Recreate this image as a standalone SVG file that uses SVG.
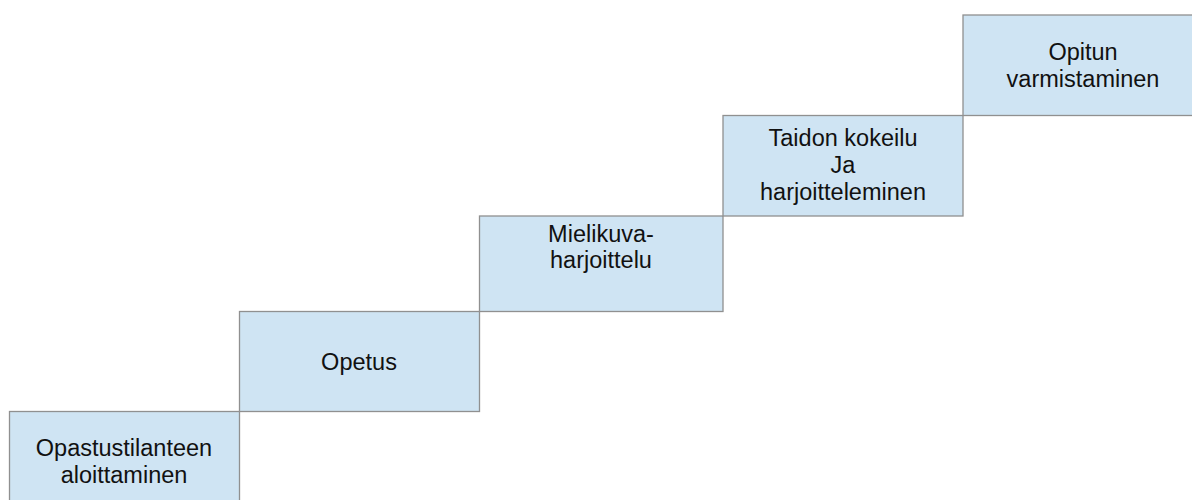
<svg xmlns="http://www.w3.org/2000/svg" width="1192" height="500" viewBox="0 0 1192 500">
<style>
.box{fill:#cfe4f3;stroke:#909090;stroke-width:1.3}
.t{font-family:"Liberation Sans",Arial,sans-serif;font-size:23.5px;fill:#111;text-anchor:middle}
</style>
<rect width="1192" height="500" fill="#fff"/>
<g id="connectors"></g>
<g id="n1"><rect class="box" x="9.5" y="411.5" width="230" height="100"/><text class="t" x="124" y="456">Opastustilanteen</text><text class="t" x="124" y="483">aloittaminen</text></g>
<g id="n2"><rect class="box" x="239.5" y="311.5" width="240" height="100"/><text class="t" x="359" y="370">Opetus</text></g>
<g id="n3"><rect class="box" x="479.5" y="216" width="243.5" height="95.5"/><text class="t" x="601" y="242">Mielikuva-</text><text class="t" x="601" y="268">harjoittelu</text></g>
<g id="n4"><rect class="box" x="723" y="115.5" width="240" height="100.5"/><text class="t" x="843" y="146">Taidon kokeilu</text><text class="t" x="843" y="173">Ja</text><text class="t" x="843" y="200">harjoitteleminen</text></g>
<g id="n5"><rect class="box" x="963" y="15" width="240" height="100.5"/><text class="t" x="1083" y="60">Opitun</text><text class="t" x="1083" y="87">varmistaminen</text></g>
</svg>
